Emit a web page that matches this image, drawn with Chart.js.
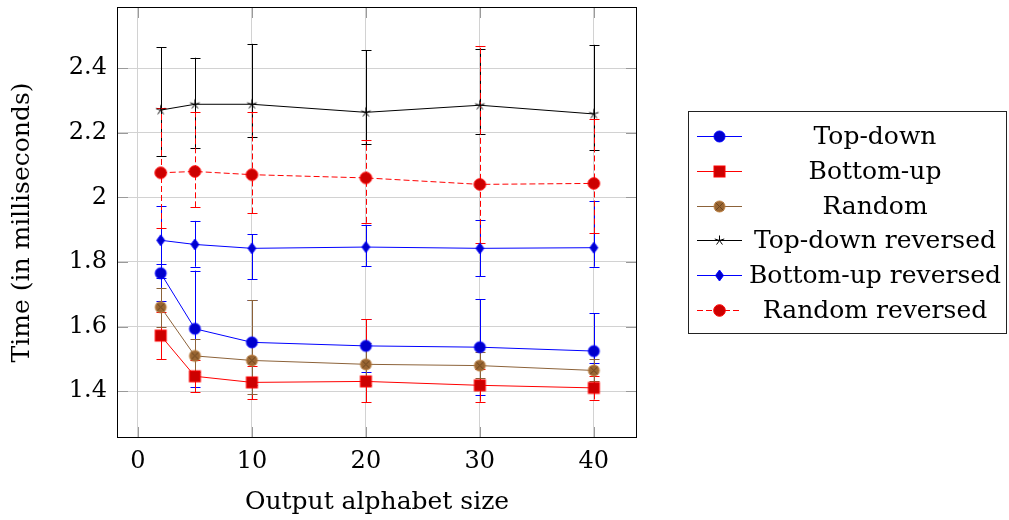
<!DOCTYPE html>
<html>
<head>
<meta charset="utf-8">
<script src="https://cdn.jsdelivr.net/npm/chart.js@4"></script>
<style>
html,body{margin:0;padding:0;background:#fff;}
canvas{display:block;}
</style>
</head>
<body>
<canvas id="c" width="1009" height="520"></canvas>
<script>
// ---- Data ----
const xValues = [2, 5, 10, 20, 30, 40];
const xTicks = [0, 10, 20, 30, 40];
const yTicks = [1.4, 1.6, 1.8, 2.0, 2.2, 2.4];
const seriesNames = ["Top-down", "Bottom-up", "Random", "Top-down reversed", "Bottom-up reversed", "Random reversed"];

const topDown      = [1.765, 1.593, 1.551, 1.540, 1.536, 1.524];
const topDownLow   = [1.680, 1.413, 1.420, 1.458, 1.388, 1.486];
const topDownHigh  = [1.795, 1.773, 1.682, 1.622, 1.684, 1.641];

const bottomUp     = [1.572, 1.446, 1.427, 1.430, 1.418, 1.410];
const bottomUpLow  = [1.498, 1.396, 1.375, 1.366, 1.367, 1.374];
const bottomUpHigh = [1.646, 1.496, 1.479, 1.623, 1.469, 1.446];

const random       = [1.660, 1.509, 1.495, 1.483, 1.479, 1.464];
const randomLow    = [1.600, 1.460, 1.390, 1.420, 1.440, 1.430];
const randomHigh   = [1.720, 1.560, 1.682, 1.550, 1.520, 1.500];

const topDownRev     = [2.270, 2.288, 2.288, 2.263, 2.285, 2.258];
const topDownRevLow  = [2.128, 2.152, 2.186, 2.164, 2.196, 2.147];
const topDownRevHigh = [2.465, 2.432, 2.475, 2.456, 2.458, 2.472];

const bottomUpRev     = [1.867, 1.854, 1.842, 1.846, 1.842, 1.844];
const bottomUpRevLow  = [1.750, 1.785, 1.746, 1.787, 1.756, 1.785];
const bottomUpRevHigh = [1.974, 1.927, 1.886, 1.915, 1.929, 1.988];

const randomRev     = [2.076, 2.080, 2.070, 2.060, 2.040, 2.043];
const randomRevLow  = [1.905, 1.969, 1.950, 1.921, 1.859, 1.888];
const randomRevHigh = [2.276, 2.265, 2.264, 2.177, 2.467, 2.241];

// ---- Markers ----
function makeMarker(type) {
  const c = document.createElement('canvas');
  const s = 15;
  c.width = s; c.height = s;
  const g = c.getContext('2d');
  const m = s / 2;
  g.lineWidth = 1;
  if (type === 'circleBlue' || type === 'circleRed') {
    g.beginPath(); g.arc(m, m, type === 'circleRed' ? 5.8 : 5.5, 0, Math.PI * 2);
    g.fillStyle = type === 'circleBlue' ? '#0000cc' : '#cc0000';
    g.strokeStyle = type === 'circleBlue' ? '#0000ff' : '#ff0000';
    g.fill(); g.stroke();
  } else if (type === 'square') {
    g.fillStyle = '#cc0000'; g.strokeStyle = '#ff0000';
    g.fillRect(m - 5.5, m - 5.5, 11, 11);
    g.strokeRect(m - 5.5, m - 5.5, 11, 11);
  } else if (type === 'otimes') {
    g.beginPath(); g.arc(m, m, 5.5, 0, Math.PI * 2);
    g.fillStyle = '#996633'; g.strokeStyle = '#bf8040';
    g.fill(); g.stroke();
    g.strokeStyle = '#6b4520';
    const d = 5.5 * Math.SQRT1_2;
    g.beginPath();
    g.moveTo(m - d, m - d); g.lineTo(m + d, m + d);
    g.moveTo(m - d, m + d); g.lineTo(m + d, m - d);
    g.stroke();
  } else if (type === 'star') {
    g.strokeStyle = '#000';
    g.beginPath();
    for (let k = 0; k < 5; k++) {
      const a = -Math.PI / 2 + k * 2 * Math.PI / 5;
      g.moveTo(m, m); g.lineTo(m + 5 * Math.cos(a), m + 5 * Math.sin(a));
    }
    g.stroke();
  } else if (type === 'diamond') {
    g.fillStyle = '#0000cc'; g.strokeStyle = '#0000ff';
    g.beginPath();
    g.moveTo(m, m - 5.5); g.lineTo(m + 4, m); g.lineTo(m, m + 5.5); g.lineTo(m - 4, m); g.closePath();
    g.fill(); g.stroke();
  }
  return c;
}

function pts(ys) { return xValues.map((x, i) => ({x: x, y: ys[i]})); }

const seriesDefs = [
  {label: seriesNames[0], data: topDown, low: topDownLow, high: topDownHigh, color: '#0000ff', marker: 'circleBlue', dash: []},
  {label: seriesNames[1], data: bottomUp, low: bottomUpLow, high: bottomUpHigh, color: '#ff0000', marker: 'square', dash: []},
  {label: seriesNames[2], data: random, low: randomLow, high: randomHigh, color: '#8c6239', marker: 'otimes', dash: []},
  {label: seriesNames[3], data: topDownRev, low: topDownRevLow, high: topDownRevHigh, color: '#000000', marker: 'star', dash: []},
  {label: seriesNames[4], data: bottomUpRev, low: bottomUpRevLow, high: bottomUpRevHigh, color: '#0000ff', marker: 'diamond', dash: []},
  {label: seriesNames[5], data: randomRev, low: randomRevLow, high: randomRevHigh, color: '#ff0000', marker: 'circleRed', dash: [6, 3]}
];

const datasets = seriesDefs.map((s, i) => {
  const img = makeMarker(s.marker);
  return {
    label: s.label,
    data: pts(s.data),
    errLow: s.low,
    errHigh: s.high,
    borderColor: s.color,
    backgroundColor: s.color,
    borderWidth: 1,
    borderDash: s.dash,
    pointStyle: img,
    markerImg: img,
    pointRadius: 6,
    tension: 0,
    fill: false,
    order: 5 - i
  };
});

const FONT = 'DejaVu Serif';

const errorBars = {
  id: 'errorBars',
  beforeDatasetsDraw(chart) {
    const ctx = chart.ctx;
    const xs = chart.scales.x, ys = chart.scales.y;
    ctx.save();
    ctx.beginPath();
    ctx.rect(chart.chartArea.left, chart.chartArea.top, chart.chartArea.right - chart.chartArea.left, chart.chartArea.bottom - chart.chartArea.top);
    ctx.clip();
    chart.data.datasets.forEach((ds) => {
      ctx.strokeStyle = ds.borderColor;
      ctx.lineWidth = 1;
      ctx.setLineDash(ds.borderDash || []);
      ds.data.forEach((p, i) => {
        const px = Math.round(xs.getPixelForValue(p.x)) + 0.5;
        const yl = ys.getPixelForValue(ds.errLow[i]);
        const yh = ys.getPixelForValue(ds.errHigh[i]);
        ctx.beginPath();
        ctx.moveTo(px, yl); ctx.lineTo(px, yh);
        ctx.stroke();
        ctx.setLineDash([]);
        ctx.beginPath();
        ctx.moveTo(px - 5, Math.round(yl) + 0.5); ctx.lineTo(px + 5, Math.round(yl) + 0.5);
        ctx.moveTo(px - 5, Math.round(yh) + 0.5); ctx.lineTo(px + 5, Math.round(yh) + 0.5);
        ctx.stroke();
        ctx.setLineDash(ds.borderDash || []);
      });
    });
    ctx.restore();
  }
};

const frameAndLegend = {
  id: 'frameAndLegend',
  afterDraw(chart) {
    const ctx = chart.ctx;
    const a = chart.chartArea;
    const xs = chart.scales.x, ys = chart.scales.y;
    ctx.save();
    // inward tick marks
    ctx.strokeStyle = '#9a9a9a';
    ctx.lineWidth = 1;
    ctx.beginPath();
    xTicks.forEach(v => {
      const px = Math.round(xs.getPixelForValue(v)) + 0.5;
      ctx.moveTo(px, a.bottom); ctx.lineTo(px, a.bottom - 10);
      ctx.moveTo(px, a.top); ctx.lineTo(px, a.top + 10);
    });
    yTicks.forEach(v => {
      const py = Math.round(ys.getPixelForValue(v)) + 0.5;
      ctx.moveTo(a.left, py); ctx.lineTo(a.left + 10, py);
      ctx.moveTo(a.right, py); ctx.lineTo(a.right - 10, py);
    });
    ctx.stroke();
    // frame
    ctx.strokeStyle = '#000';
    ctx.strokeRect(Math.round(a.left) - 0.5, Math.round(a.top) - 0.5, Math.round(a.right - a.left) + 1, Math.round(a.bottom - a.top) + 1);
    // legend
    const lx = 688.5, ly = 111.5, lw = 318, lh = 222;
    ctx.fillStyle = '#fff';
    ctx.fillRect(lx, ly, lw, lh);
    ctx.strokeStyle = '#222';
    ctx.strokeRect(lx, ly, lw, lh);
    ctx.font = '25px "' + FONT + '"';
    ctx.textAlign = 'center';
    ctx.textBaseline = 'middle';
    chart.data.datasets.forEach((ds, i) => {
      const y = Math.round(136 + i * 34.8) + 0.5;
      ctx.strokeStyle = ds.borderColor;
      ctx.setLineDash(ds.borderDash || []);
      ctx.beginPath();
      ctx.moveTo(697, y); ctx.lineTo(742, y);
      ctx.stroke();
      ctx.setLineDash([]);
      const img = ds.markerImg;
      ctx.drawImage(img, 719.5 - img.width / 2, y - img.height / 2);
      ctx.fillStyle = '#000';
      ctx.fillText(ds.label, 875, y + 1);
    });
    ctx.restore();
  }
};

new Chart(document.getElementById('c'), {
  type: 'line',
  data: {datasets: datasets},
  options: {
    responsive: false,
    animation: false,
    devicePixelRatio: 1,
    layout: {padding: {left: 0, top: 8, right: 373, bottom: 0}},
    plugins: {legend: {display: false}, tooltip: {enabled: false}},
    scales: {
      x: {
        type: 'linear',
        min: -1.75,
        max: 43.7,
        afterFit(s) { s.height = 83; s.paddingLeft = 0; s.paddingRight = 0; },
        afterBuildTicks(s) { s.ticks = xTicks.map(v => ({value: v})); },
        ticks: {
          includeBounds: false,
          padding: 10,
          color: '#000',
          font: {family: FONT, size: 24},
          callback: v => String(v)
        },
        grid: {color: '#d2d2d2', lineWidth: 1, drawTicks: false},
        border: {display: false},
        title: {display: true, text: 'Output alphabet size', color: '#000', font: {family: FONT, size: 25}, padding: {top: 0, bottom: 3}}
      },
      y: {
        type: 'linear',
        min: 1.258,
        max: 2.586,
        afterFit(s) { s.width = 118; s.paddingTop = 0; s.paddingBottom = 0; },
        afterBuildTicks(s) { s.ticks = yTicks.map(v => ({value: v})); },
        ticks: {
          includeBounds: false,
          padding: 11,
          color: '#000',
          font: {family: FONT, size: 24},
          callback: v => String(Number(v.toFixed(1)))
        },
        grid: {color: '#d2d2d2', lineWidth: 1, drawTicks: false},
        border: {display: false},
        title: {display: true, text: 'Time (in milliseconds)', color: '#000', font: {family: FONT, size: 25}, padding: {top: 7, bottom: 0}}
      }
    }
  },
  plugins: [errorBars, frameAndLegend]
});
</script>
</body>
</html>
